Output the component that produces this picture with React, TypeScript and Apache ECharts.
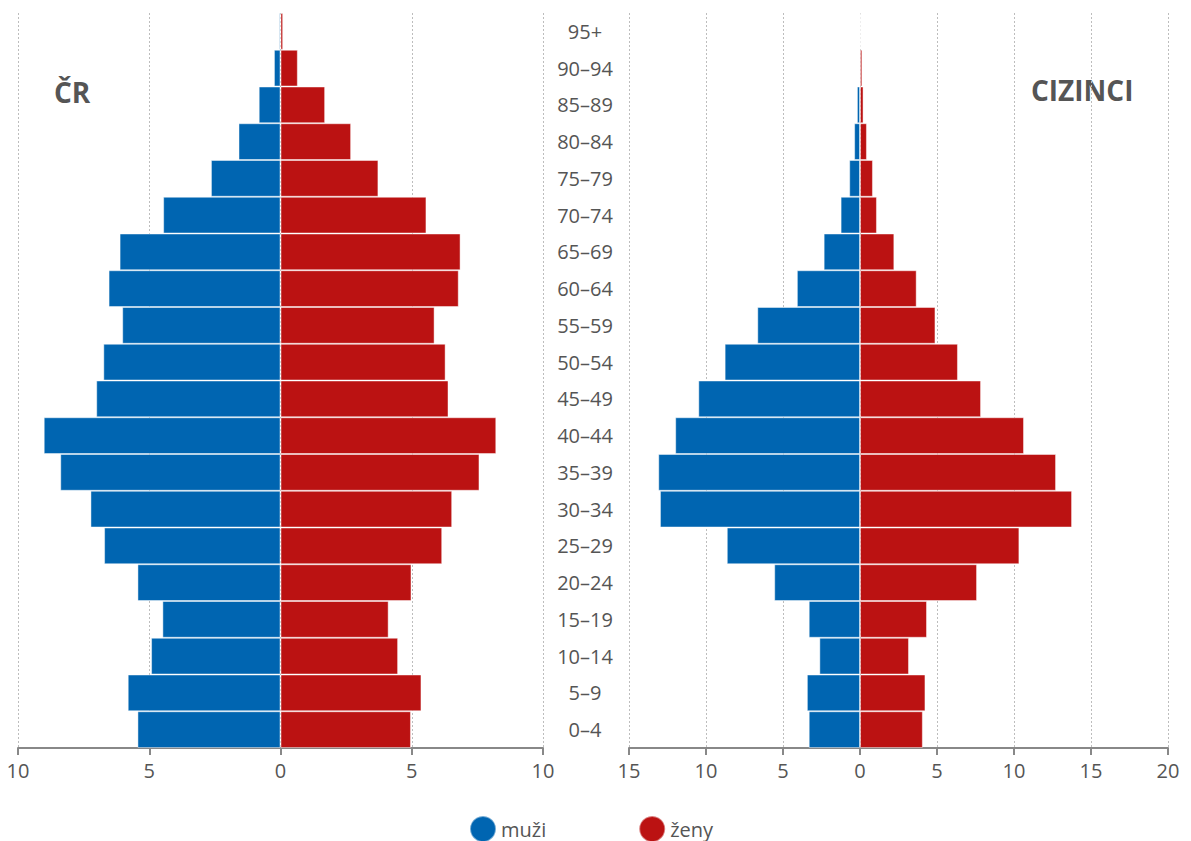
import React, { useEffect, useRef } from "react";
import * as echarts from "echarts";

const categories = ["0–4", "5–9", "10–14", "15–19", "20–24", "25–29", "30–34", "35–39", "40–44", "45–49", "50–54", "55–59", "60–64", "65–69", "70–74", "75–79", "80–84", "85–89", "90–94", "95+"];
const crMale = [5.45, 5.82, 4.93, 4.5, 5.45, 6.72, 7.24, 8.39, 9.02, 7.02, 6.75, 6.03, 6.55, 6.13, 4.47, 2.65, 1.6, 0.83, 0.25, 0.05];
const crFemale = [4.97, 5.37, 4.48, 4.12, 4.99, 6.16, 6.54, 7.58, 8.22, 6.4, 6.29, 5.87, 6.79, 6.86, 5.56, 3.73, 2.69, 1.7, 0.66, 0.1];
const fMale = [3.33, 3.45, 2.64, 3.33, 5.57, 8.65, 12.99, 13.1, 12.0, 10.5, 8.79, 6.67, 4.1, 2.36, 1.26, 0.7, 0.38, 0.2, 0.05, 0.03];
const fFemale = [4.08, 4.25, 3.18, 4.35, 7.6, 10.35, 13.77, 12.73, 10.65, 7.86, 6.36, 4.9, 3.68, 2.23, 1.1, 0.84, 0.45, 0.23, 0.15, 0.06];

const BLUE = "#0065b1";
const RED = "#bb1212";
const FONT = "'Open Sans', 'Noto Sans', sans-serif";
const TEXT = "#555";

export default function App() {
  const ref = useRef<HTMLDivElement>(null);
  useEffect(() => {
    if (!ref.current) return;
    const chart = echarts.init(ref.current, null, { renderer: "svg" });
    const xAxisCommon = (min: number, max: number, gridIndex: number) => ({
      type: "value",
      gridIndex,
      min,
      max,
      interval: 5,
      axisLine: { show: true, onZero: false, lineStyle: { color: "#888", width: 2 } },
      axisTick: { show: true, length: 7, lineStyle: { color: "#888", width: 2 } },
      axisLabel: {
        color: TEXT,
        fontFamily: FONT,
        fontSize: 20,
        margin: 12,
        formatter: (v: number) => String(Math.abs(v)),
      },
      splitLine: { show: true, lineStyle: { color: "#bdbdbd", type: [2, 2], width: 1 } },
    });
    const barStyle = (color: string) => ({
      color,
      borderColor: "rgba(255,255,255,0.45)",
      borderWidth: 1,
    });
    chart.setOption({
      animation: false,
      textStyle: { fontFamily: FONT },
      grid: [
        { left: 18, width: 525, top: 13, height: 735 },
        { left: 629, width: 539, top: 13, height: 735 },
      ],
      xAxis: [xAxisCommon(-10, 10, 0), xAxisCommon(-15, 20, 1)],
      yAxis: [
        {
          type: "category",
          gridIndex: 0,
          data: categories,
          axisLine: { show: false },
          axisTick: { show: false },
          axisLabel: { show: false },
        },
        {
          type: "category",
          gridIndex: 1,
          data: categories,
          position: "left",
          axisLine: { show: false },
          axisTick: { show: false },
          axisLabel: {
            show: true,
            color: TEXT,
            fontFamily: FONT,
            fontSize: 20,
            align: "center",
            margin: 44,
          },
        },
      ],
      legend: {
        data: ["muži", "ženy"],
        left: 464,
        top: 810,
        icon: "circle",
        itemWidth: 26,
        itemHeight: 26,
        itemGap: 92,
        textStyle: { color: TEXT, fontFamily: FONT, fontSize: 20 },
      },
      series: [
        {
          name: "muži",
          type: "bar",
          xAxisIndex: 0,
          yAxisIndex: 0,
          stack: "cr",
          barCategoryGap: "0%",
          data: crMale.map((v) => -v),
          itemStyle: barStyle(BLUE),
        },
        {
          name: "ženy",
          type: "bar",
          xAxisIndex: 0,
          yAxisIndex: 0,
          stack: "cr",
          barCategoryGap: "0%",
          data: crFemale,
          itemStyle: barStyle(RED),
        },
        {
          name: "muži",
          type: "bar",
          xAxisIndex: 1,
          yAxisIndex: 1,
          stack: "f",
          barCategoryGap: "0%",
          data: fMale.map((v) => -v),
          itemStyle: barStyle(BLUE),
        },
        {
          name: "ženy",
          type: "bar",
          xAxisIndex: 1,
          yAxisIndex: 1,
          stack: "f",
          barCategoryGap: "0%",
          data: fFemale,
          itemStyle: barStyle(RED),
        },
      ],
      graphic: [
        {
          type: "text",
          left: 54,
          top: 78,
          style: { text: "ČR", fill: TEXT, font: `bold 28px ${FONT}` },
        },
        {
          type: "text",
          left: 1031,
          top: 76,
          style: { text: "CIZINCI", fill: TEXT, font: `bold 28px ${FONT}` },
        },
      ],
    });
    return () => chart.dispose();
  }, []);
  return (
    <div
      ref={ref}
      style={{ position: "fixed", left: 0, top: 0, width: "1191px", height: "841px", background: "#fff" }}
    />
  );
}
